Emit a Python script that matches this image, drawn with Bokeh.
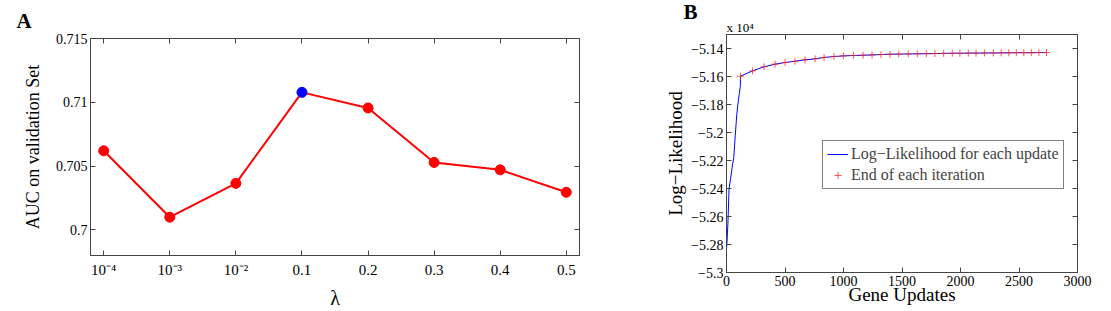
from bokeh.plotting import figure
from bokeh.models import (Range1d, FixedTicker, LinearAxis, Title,
                          CustomJSTickFormatter, Legend, LegendItem)
from bokeh.layouts import row, column
from bokeh.embed import file_html
from bokeh.resources import INLINE

# ---------------- data ----------------
lambda_labels = ["10⁻⁴", "10⁻³", "10⁻²", "0.1", "0.2", "0.3", "0.4", "0.5"]
auc_values = [0.7062, 0.7010, 0.70365, 0.71078, 0.70956, 0.70529, 0.70471, 0.70295]
best_index = 3
auc_ticks = [0.7, 0.705, 0.71, 0.715]

update_x = [0, 4, 12, 22, 35, 50, 62, 75, 88, 100, 110, 118]
update_ll = [-52830, -52790, -52650, -52400, -52330, -52240, -52180, -52020,
             -51870, -51780, -51720, -51670]

iter_end_x = [120, 222, 321, 415, 501, 586, 671, 757, 834, 919, 999, 1085,
              1167, 1244, 1320, 1397, 1472, 1554, 1631, 1708, 1781, 1856,
              1930, 1995, 2067, 2133, 2206, 2280, 2348, 2413, 2477, 2541,
              2605, 2670, 2735]
iter_end_ll = [-51598, -51560, -51531, -51512, -51500, -51491, -51481, -51474,
               -51464, -51457, -51453, -51450, -51448, -51446, -51443, -51441,
               -51440, -51439, -51438, -51437, -51436, -51435, -51434, -51434,
               -51433, -51433, -51432, -51432, -51431, -51431, -51430, -51430,
               -51430, -51429, -51429]

gene_ticks = [0, 500, 1000, 1500, 2000, 2500, 3000]
ll_ticks = [-53000, -52800, -52600, -52400, -52200, -52000, -51800, -51600, -51400]

SERIF = "Liberation Serif"
AXC = "#444444"
BLANK = CustomJSTickFormatter(code="return '';")


def style_axis(ax, labels=True, standoff=3, size="14px"):
    ax.major_tick_in = 5
    ax.major_tick_out = 0
    ax.minor_tick_line_color = None
    ax.axis_line_color = AXC
    ax.major_tick_line_color = AXC
    ax.major_label_text_font = SERIF
    ax.major_label_text_color = "black"
    ax.major_label_standoff = standoff
    ax.major_label_text_font_size = size
    ax.axis_label_text_font = SERIF
    ax.axis_label_text_font_style = "normal"
    ax.axis_label_text_color = "black"
    if not labels:
        ax.formatter = BLANK
        ax.major_label_standoff = 0


# ---------------- panel A ----------------
xa = list(range(1, len(lambda_labels) + 1))
pa = figure(width=632, height=311, output_backend="svg", toolbar_location=None,
            x_range=Range1d(0.8, 8.2), y_range=Range1d(0.698, 0.715),
            min_border_left=90, min_border_right=53, min_border_top=37,
            min_border_bottom=56)
pa.grid.visible = False
pa.outline_line_color = AXC
pa.background_fill_color = "white"

pa.title.text = "A"
pa.title.align = "left"
pa.title.offset = -74
pa.title.standoff = 12
pa.title.text_font = SERIF
pa.title.text_font_style = "bold"
pa.title.text_font_size = "21px"
pa.title.text_color = "black"

xt = FixedTicker(ticks=xa)
yt = FixedTicker(ticks=auc_ticks)
pa.xaxis.ticker = xt
pa.yaxis.ticker = yt
pa.xaxis.major_label_overrides = {i: lab for i, lab in zip(xa, lambda_labels)}
pa.yaxis.formatter = CustomJSTickFormatter(
    code="return tick.toFixed(3).replace(/0+$/, '');")
style_axis(pa.xaxis[0], standoff=6, size="15px")
style_axis(pa.yaxis[0], standoff=3)
pa.xaxis.axis_label = "λ"
pa.xaxis.axis_label_text_font_size = "20px"
pa.xaxis.axis_label_standoff = 6
pa.yaxis.axis_label = "AUC on validation Set"
pa.yaxis.axis_label_text_font_size = "18px"
pa.yaxis.axis_label_standoff = 10

top_a = LinearAxis(ticker=xt)
style_axis(top_a, labels=False)
pa.add_layout(top_a, "above")
right_a = LinearAxis(ticker=yt)
style_axis(right_a, labels=False)
pa.add_layout(right_a, "right")

pa.line(xa, auc_values, line_color="#ff0000", line_width=2)
colors = ["#0000ff" if i == best_index else "#ff0000" for i in range(len(xa))]
pa.scatter(xa, auc_values, size=10, fill_color=colors, line_color=colors)

# ---------------- panel B ----------------
pb = figure(width=479, height=311, output_backend="svg", toolbar_location=None,
            x_range=Range1d(0, 3000), y_range=Range1d(-53000, -51300),
            min_border_left=94, min_border_right=34, min_border_top=34,
            min_border_bottom=39, title=None)
pb.grid.visible = False
pb.outline_line_color = AXC

gxt = FixedTicker(ticks=gene_ticks)
gyt = FixedTicker(ticks=ll_ticks)
pb.xaxis.ticker = gxt
pb.yaxis.ticker = gyt
pb.yaxis.formatter = CustomJSTickFormatter(
    code="var s = (tick/1e4).toFixed(2).replace(/0+$/, '').replace(/\\.$/, '');"
         "return s.replace('-', '\\u2212');")
style_axis(pb.xaxis[0], standoff=3)
style_axis(pb.yaxis[0], standoff=3)
pb.xaxis.axis_label = "Gene Updates"
pb.xaxis.axis_label_text_font_size = "19px"
pb.xaxis.axis_label_standoff = -5
pb.yaxis.axis_label = "Log−Likelihood"
pb.yaxis.axis_label_text_font_size = "19px"
pb.yaxis.axis_label_standoff = 2

top_b = LinearAxis(ticker=gxt)
style_axis(top_b, labels=False)
pb.add_layout(top_b, "above")
right_b = LinearAxis(ticker=gyt)
style_axis(right_b, labels=False)
pb.add_layout(right_b, "right")

pb.add_layout(Title(text="x 10⁴", align="left", offset=0, standoff=0,
                    text_font=SERIF, text_font_style="normal",
                    text_font_size="13px", text_color="black"), "above")
pb.add_layout(Title(text="B", align="left", offset=-43, standoff=-12,
                    text_font=SERIF, text_font_style="bold",
                    text_font_size="21px", text_color="black"), "above")

line_x = update_x + iter_end_x
line_y = update_ll + iter_end_ll
ln = pb.line(line_x, line_y, line_color="#0000ff", line_width=1)
mk = pb.scatter(iter_end_x, iter_end_ll, marker="cross", size=7,
                line_color="#ff2222", line_alpha=0.75, line_width=1)

legend = Legend(items=[LegendItem(label="Log−Likelihood for each update", renderers=[ln]),
                       LegendItem(label="End of each iteration", renderers=[mk])],
                location=(96, 83))
legend.border_line_color = "black"
legend.border_line_width = 1
legend.background_fill_color = "white"
legend.background_fill_alpha = 1
legend.label_text_font = SERIF
legend.label_text_font_size = "16px"
legend.glyph_width = 21
legend.glyph_height = 18
legend.label_height = 18
legend.spacing = 3
legend.padding = 4
legend.margin = 0
legend.label_standoff = 3
pb.add_layout(legend)

layout = row(column(pa), column(pb))
open("out.html", "w").write(file_html(layout, INLINE))
